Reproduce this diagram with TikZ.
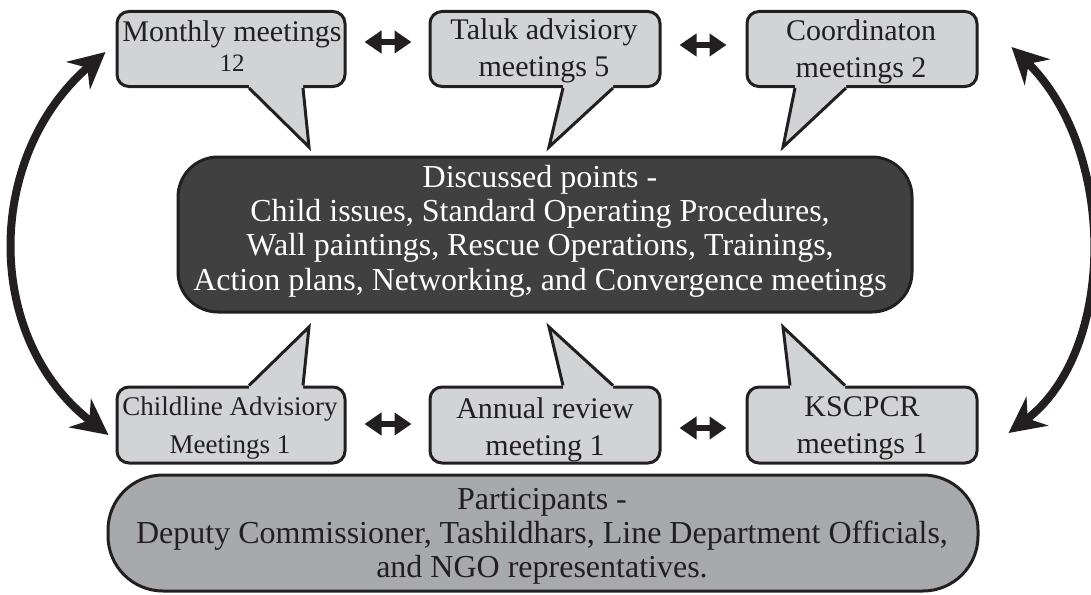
\documentclass[tikz,border=0pt]{standalone}
\usepackage{fontspec}
\setmainfont{Liberation Serif}
\usetikzlibrary{arrows.meta}
\definecolor{callfill}{HTML}{D1D3D4}
\definecolor{darkfill}{HTML}{404040}
\definecolor{partfill}{HTML}{A7A9AC}
\definecolor{ink}{HTML}{231F20}
\begin{document}
\begin{tikzpicture}[x=1pt,y=-1pt,
  callbox/.style={draw=ink, line width=3pt, fill=callfill, rounded corners=12pt, inner sep=0pt, minimum width=230pt, minimum height=75pt},
  calltext/.style={text=ink, align=center, font=\fontsize{30}{37}\selectfont, inner sep=0pt},
  tailline/.style={draw=ink, line width=3pt, line join=miter},
  bigbox/.style={draw=ink, line width=3pt, inner sep=0pt},
  bigtext/.style={align=center, font=\fontsize{32}{34.3}\selectfont, inner sep=0pt},
  hdbl/.style={draw=ink, line width=6pt, {Triangle[length=17pt,width=22pt]}-{Triangle[length=17pt,width=22pt]}},
  bigarc/.style={draw=ink, line width=8pt, {Stealth[length=36pt,width=36pt,inset=12pt]}-{Stealth[length=36pt,width=36pt,inset=12pt]}},
]
\useasboundingbox (0,0) rectangle (1091,594);

% big boxes
\node[bigbox, fill=darkfill, rounded corners=40pt, minimum width=734pt, minimum height=155pt] (discuss) at (545,234.5) {};
\node[bigtext, text=white] (discusst) at (540,231) {Discussed points -\\Child issues, Standard Operating Procedures,\\Wall paintings, Rescue Operations, Trainings,\\Action plans, Networking, and Convergence meetings};
\node[bigbox, fill=partfill, rounded corners=55pt, minimum width=870pt, minimum height=116pt] (partic) at (543,533) {};
\node[bigtext, text=ink] (partict) at (542,536.5) {Participants -\\Deputy Commissioner, Tashildhars, Line Department Officials,\\and NGO representatives.};

% callout boxes
\node[callbox, minimum width=228pt] (monthly) at (231,49) {};
\node[callbox] (taluk) at (545,49) {};
\node[callbox] (coord) at (862,49) {};
\node[callbox, minimum width=228pt, minimum height=76pt] (childline) at (231,425) {};
\node[callbox, minimum height=76pt] (annual) at (545,425) {};
\node[callbox, minimum height=76pt] (kscpcr) at (862,425) {};

% tails (top row)
\coordinate (mtip) at (309,147);
\coordinate (ttip) at (549,147);
\coordinate (ctip) at (783,147);
\coordinate (m1) at ([xshift=18pt]monthly.south);
\coordinate (m2) at ([xshift=72pt]monthly.south);
\coordinate (t1) at ([xshift=18pt]taluk.south);
\coordinate (t2) at ([xshift=68pt]taluk.south);
\coordinate (c1) at ([xshift=-67pt]coord.south);
\coordinate (c2) at ([xshift=-16pt]coord.south);
\fill[callfill] ([yshift=4pt]m1) -- (m1) -- (mtip) -- (m2) -- ([yshift=4pt]m2) -- cycle;
\draw[tailline] (m1) -- (mtip) -- (m2);
\fill[callfill] ([yshift=4pt]t1) -- (t1) -- (ttip) -- (t2) -- ([yshift=4pt]t2) -- cycle;
\draw[tailline] (t1) -- (ttip) -- (t2);
\fill[callfill] ([yshift=4pt]c1) -- (c1) -- (ctip) -- (c2) -- ([yshift=4pt]c2) -- cycle;
\draw[tailline] (c1) -- (ctip) -- (c2);

% tails (bottom row)
\coordinate (chtip) at (309,327);
\coordinate (atip) at (549,327);
\coordinate (ktip) at (783,327);
\coordinate (h1) at ([xshift=18pt]childline.north);
\coordinate (h2) at ([xshift=72pt]childline.north);
\coordinate (a1) at ([xshift=18pt]annual.north);
\coordinate (a2) at ([xshift=68pt]annual.north);
\coordinate (k1) at ([xshift=-72pt]kscpcr.north);
\coordinate (k2) at ([xshift=-17pt]kscpcr.north);
\fill[callfill] ([yshift=-4pt]h1) -- (h1) -- (chtip) -- (h2) -- ([yshift=-4pt]h2) -- cycle;
\draw[tailline] (h1) -- (chtip) -- (h2);
\fill[callfill] ([yshift=-4pt]a1) -- (a1) -- (atip) -- (a2) -- ([yshift=-4pt]a2) -- cycle;
\draw[tailline] (a1) -- (atip) -- (a2);
\fill[callfill] ([yshift=-4pt]k1) -- (k1) -- (ktip) -- (k2) -- ([yshift=-4pt]k2) -- cycle;
\draw[tailline] (k1) -- (ktip) -- (k2);

% callout texts
\node[calltext] (monthlyt) at (232,46) {Monthly meetings\\[-7pt]\fontsize{25}{25}\selectfont 12};
\node[calltext] (talukt) at (544,51) {Taluk advisiory\\meetings 5};
\node[calltext] (coordt) at (861,52) {Coordinaton\\meetings 2};
\node[calltext, font=\fontsize{27}{38}\selectfont] (childlinet) at (230,428) {Childline Advisiory\\Meetings 1};
\node[calltext] (annualt) at (545,429.5) {Annual review\\meeting 1};
\node[calltext] (kscpcrt) at (862,428.5) {KSCPCR\\meetings 1};

% horizontal double arrows
\draw[hdbl] ([xshift=18pt,yshift=7pt]monthly.east) -- ([xshift=-17pt,yshift=7pt]taluk.west);
\draw[hdbl] ([xshift=18pt,yshift=4pt]taluk.east) -- ([xshift=-19pt,yshift=4pt]coord.west);
\draw[hdbl] ([xshift=18pt,yshift=1pt]childline.east) -- ([xshift=-17pt,yshift=1pt]annual.west);
\draw[hdbl] ([xshift=18pt,yshift=-3pt]annual.east) -- ([xshift=-19pt,yshift=-3pt]kscpcr.west);

% big curved arrows
\draw[bigarc] ([xshift=-10pt,yshift=-3pt]monthly.west) .. controls (-16,157) and (-16,339) .. ([xshift=-7pt,yshift=-10pt]childline.west);
\draw[bigarc] ([xshift=33pt,yshift=2pt]coord.east) .. controls (1117,150) and (1117,351) .. ([xshift=30pt,yshift=-8pt]kscpcr.east);
\end{tikzpicture}
\end{document}
